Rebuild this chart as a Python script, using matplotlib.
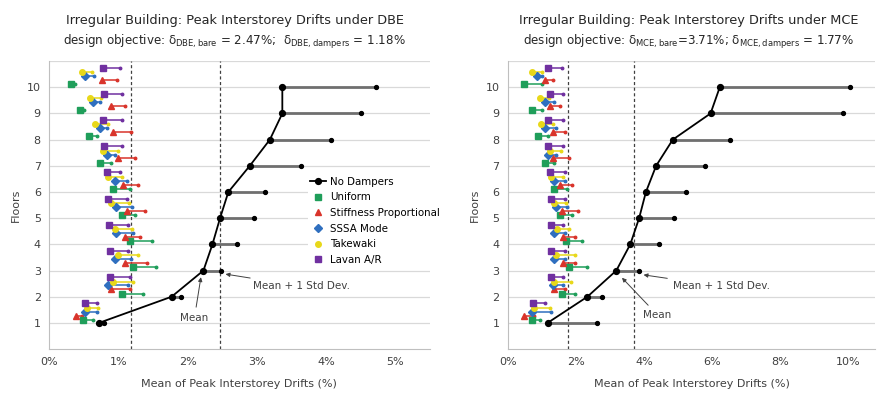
import numpy as np
import matplotlib
matplotlib.use("Agg")
import matplotlib.pyplot as plt
from matplotlib.ticker import FuncFormatter

floors = np.arange(1, 11)

# DBE - no dampers (mean and mean + 1 std)
dbe_bare_mean = [0.72, 1.77, 2.23, 2.36, 2.47, 2.59, 2.90, 3.19, 3.37, 3.37]
dbe_bare_upper = [0.80, 1.91, 2.49, 2.72, 2.96, 3.12, 3.64, 4.07, 4.50, 4.72]

# DBE - damper distributions
dbe_uniform = [0.49, 1.05, 1.21, 1.17, 1.05, 0.92, 0.73, 0.58, 0.45, 0.31]
dbe_uniform_up = [0.63, 1.35, 1.55, 1.48, 1.24, 1.17, 0.90, 0.69, 0.50, 0.37]
dbe_stiff = [0.39, 0.90, 1.09, 1.09, 1.12, 1.07, 0.99, 0.92, 0.90, 0.76]
dbe_stiff_up = [0.47, 1.17, 1.41, 1.31, 1.38, 1.28, 1.24, 1.19, 1.09, 0.98]
dbe_sssa = [0.52, 0.85, 0.95, 0.97, 0.97, 0.95, 0.83, 0.73, 0.63, 0.52]
dbe_sssa_up = [0.69, 1.14, 1.19, 1.21, 1.20, 1.12, 0.95, 0.83, 0.73, 0.65]
dbe_takewaki = [0.55, 0.92, 1.00, 0.95, 0.90, 0.85, 0.78, 0.66, 0.59, 0.47]
dbe_takewaki_up = [0.70, 1.21, 1.28, 1.20, 1.15, 1.05, 1.00, 0.85, 0.75, 0.62]
dbe_lavan = [0.52, 0.88, 0.88, 0.87, 0.85, 0.83, 0.80, 0.78, 0.79, 0.78]
dbe_lavan_up = [0.69, 1.17, 1.14, 1.14, 1.12, 1.02, 1.05, 1.05, 1.05, 1.02]

# MCE - no dampers
mce_bare_mean = [1.17, 2.34, 3.19, 3.60, 3.86, 4.06, 4.36, 4.85, 5.96, 6.23]
mce_bare_upper = [2.63, 2.78, 3.86, 4.44, 4.88, 5.23, 5.79, 6.52, 9.85, 10.06]

# MCE - damper distributions
mce_uniform = [0.70, 1.58, 1.81, 1.72, 1.52, 1.37, 1.08, 0.88, 0.70, 0.47]
mce_uniform_up = [0.94, 1.99, 2.34, 2.17, 1.90, 1.75, 1.37, 1.17, 1.02, 1.02]
mce_stiff = [0.49, 1.37, 1.61, 1.61, 1.58, 1.52, 1.32, 1.32, 1.23, 1.08]
mce_stiff_up = [0.78, 1.67, 1.99, 1.99, 2.05, 1.90, 1.81, 1.67, 1.52, 1.32]
mce_sssa = [0.70, 1.32, 1.37, 1.37, 1.43, 1.37, 1.17, 1.08, 1.08, 0.85]
mce_sssa_up = [1.28, 1.61, 1.67, 1.67, 1.75, 1.67, 1.43, 1.43, 1.37, 1.00]
mce_takewaki = [0.78, 1.37, 1.43, 1.46, 1.37, 1.27, 1.23, 0.99, 0.94, 0.70]
mce_takewaki_up = [1.23, 1.85, 1.99, 1.81, 1.70, 1.61, 1.56, 1.32, 1.20, 1.00]
mce_lavan = [0.73, 1.28, 1.28, 1.28, 1.28, 1.23, 1.17, 1.17, 1.23, 1.17]
mce_lavan_up = [1.08, 1.61, 1.67, 1.61, 1.67, 1.67, 1.61, 1.61, 1.61, 1.58]

# design objectives
dbe_targets = [1.18, 2.47]
mce_targets = [1.77, 3.71]

series_names = ["Uniform", "Stiffness Proportional", "SSSA Mode", "Takewaki", "Lavan A/R"]
series_colors = ["#1f9e5a", "#d9342b", "#2f6fbf", "#e8d81a", "#7030a0"]
series_markers = ["s", "^", "D", "o", "s"]
series_offsets = [0.12, 0.28, 0.43, 0.58, 0.75]


def draw_panel(ax, bare_mean, bare_up, dampers, targets, xmax, xticks):
    # light horizontal grid at each floor
    for f in range(1, 12):
        ax.axhline(f, color="#d9d9d9", lw=0.9, zorder=0)

    # damper series, staggered above each floor
    for (mean, up), name, c, m, off in zip(dampers, series_names, series_colors,
                                           series_markers, series_offsets):
        y = floors + off
        for xm, xu, yy in zip(mean, up, y):
            ax.plot([xm, xu], [yy, yy], color=c, lw=1.1, zorder=3)
        ax.plot(up, y, ls="none", marker="o", ms=1.8, color=c, zorder=3)
        ax.plot(mean, y, ls="none", marker=m, ms=4, color=c, mec=c, label=name, zorder=4)

    # no dampers: mean + 1 std bars
    for xm, xu, f in zip(bare_mean, bare_up, floors):
        ax.plot([xm, xu], [f, f], color="#6f6f6f", lw=2.0, zorder=5)
    ax.plot(bare_up, floors, ls="none", marker="o", ms=2.8, color="black", zorder=6)
    ax.plot(bare_mean, floors, color="black", lw=1.3, marker="o", ms=4.2,
            label="No Dampers", zorder=7)

    for t in targets:
        ax.axvline(t, color="#404040", lw=0.9, ls=(0, (2.5, 2)), zorder=2)

    ax.set_xlim(0, xmax)
    ax.set_ylim(0, 11)
    ax.set_xticks(xticks)
    ax.xaxis.set_major_formatter(FuncFormatter(lambda v, p: f"{v:.0f}%"))
    ax.set_yticks(floors)
    ax.tick_params(length=0, labelsize=8, colors="#404040", pad=6)
    for s in ["top", "right"]:
        ax.spines[s].set_visible(False)
    for s in ["left", "bottom"]:
        ax.spines[s].set_color("#bfbfbf")
    ax.set_ylabel("Floors", fontsize=8, color="#404040")
    ax.set_xlabel("Mean of Peak Interstorey Drifts (%)", fontsize=8, color="#404040", labelpad=8)


fig = plt.figure(figsize=(8.77, 3.94), dpi=100)
ax1 = fig.add_axes([0.056, 0.114, 0.434, 0.731])
ax2 = fig.add_axes([0.579, 0.114, 0.419, 0.731])

draw_panel(ax1, dbe_bare_mean, dbe_bare_upper,
           [(dbe_uniform, dbe_uniform_up), (dbe_stiff, dbe_stiff_up), (dbe_sssa, dbe_sssa_up),
            (dbe_takewaki, dbe_takewaki_up), (dbe_lavan, dbe_lavan_up)],
           dbe_targets, 5.5, [0, 1, 2, 3, 4, 5])
draw_panel(ax2, mce_bare_mean, mce_bare_upper,
           [(mce_uniform, mce_uniform_up), (mce_stiff, mce_stiff_up), (mce_sssa, mce_sssa_up),
            (mce_takewaki, mce_takewaki_up), (mce_lavan, mce_lavan_up)],
           mce_targets, 10.8, [0, 2, 4, 6, 8, 10])

# two-line titles: heading and design objective
ax1.text(0.488, 1.142, "Irregular Building: Peak Interstorey Drifts under DBE", transform=ax1.transAxes,
         ha="center", va="center", fontsize=9.3, color="#262626")
ax1.text(0.488, 1.066, r"design objective: $\mathrm{\delta_{DBE,bare}}$ = 2.47%;  $\mathrm{\delta_{DBE,dampers}}$ = 1.18%",
         transform=ax1.transAxes, ha="center", va="center", fontsize=8.6, color="#262626")
ax2.text(0.493, 1.142, "Irregular Building: Peak Interstorey Drifts under MCE", transform=ax2.transAxes,
         ha="center", va="center", fontsize=9.3, color="#262626")
ax2.text(0.493, 1.066, r"design objective: $\mathrm{\delta_{MCE,bare}}$=3.71%; $\mathrm{\delta_{MCE,dampers}}$ = 1.77%",
         transform=ax2.transAxes, ha="center", va="center", fontsize=8.6, color="#262626")

# legend in left panel
h, l = ax1.get_legend_handles_labels()
order = [l.index("No Dampers")] + [l.index(n) for n in series_names]
leg = ax1.legend([h[i] for i in order], [l[i] for i in order], loc="upper left",
                 bbox_to_anchor=(0.345, 0.57), bbox_transform=fig.transFigure,
                 fontsize=7.4, frameon=True, framealpha=1, edgecolor="none",
                 handlelength=1.6, handletextpad=0.4, labelspacing=0.55, borderpad=0.2)
leg.set_zorder(10)

# annotations
arrow = dict(arrowstyle="-|>", color="#404040", lw=0.7, mutation_scale=6)
ax1.annotate("Mean + 1 Std Dev.", xy=(dbe_bare_upper[2] + 0.02, 2.88), xytext=(2.95, 2.4),
             fontsize=7.5, color="#404040", ha="left", va="center", arrowprops=arrow)
ax1.annotate("Mean", xy=(2.2, 2.85), xytext=(2.1, 1.2),
             fontsize=7.5, color="#404040", ha="center", va="center", arrowprops=arrow)
ax2.annotate("Mean + 1 Std Dev.", xy=(mce_bare_upper[2] + 0.05, 2.85), xytext=(4.85, 2.4),
             fontsize=7.5, color="#404040", ha="left", va="center", arrowprops=arrow)
ax2.annotate("Mean", xy=(3.3, 2.8), xytext=(4.4, 1.3),
             fontsize=7.5, color="#404040", ha="center", va="center", arrowprops=arrow)

fig.savefig("out.png", dpi=100)
